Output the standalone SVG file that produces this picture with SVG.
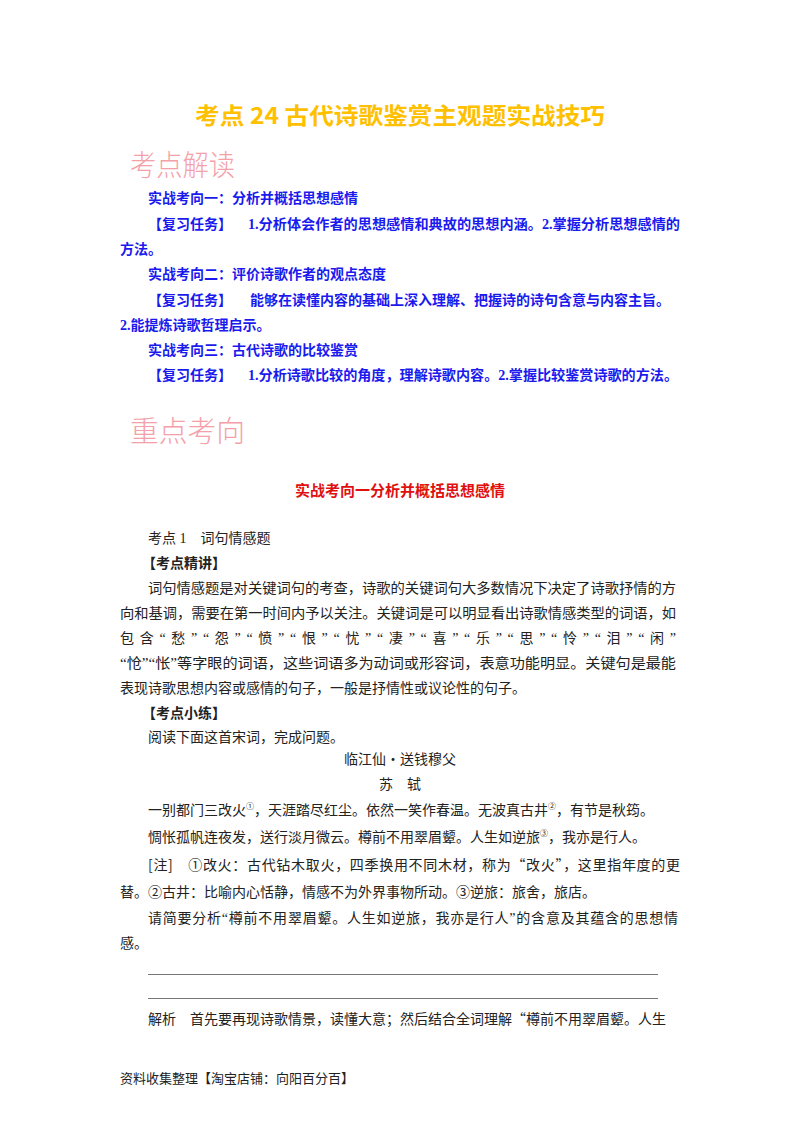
<svg xmlns="http://www.w3.org/2000/svg" width="800" height="1132" viewBox="0 0 800 1132">
<style>
text{font-family:"Liberation Serif","Noto Sans CJK SC",serif;font-size:14px;fill:#222}
.b{fill:#1a1aee;font-weight:bold}
.s{font-family:"Noto Sans CJK SC",sans-serif;font-size:14px}
.h{font-family:"Noto Sans CJK SC",serif;font-size:29px;fill:#f4a0a8;font-weight:300}
</style>
<rect width="800" height="1132" fill="#fff"/>
<text x="400" y="124" text-anchor="middle" textLength="410" lengthAdjust="spacingAndGlyphs" style="font-family:'Noto Sans CJK SC',sans-serif;font-size:23px;font-weight:bold;fill:#FFC000">考点 24  古代诗歌鉴赏主观题实战技巧</text>
<text class="h" x="130" y="176" textLength="105" lengthAdjust="spacingAndGlyphs">考点解读</text>
<text class="b" x="148" y="203">实战考向一：分析并概括思想感情</text>
<text class="b" x="148" y="229">【复习任务】</text>
<text class="b" x="248" y="229" textLength="432" lengthAdjust="spacingAndGlyphs">1.分析体会作者的思想感情和典故的思想内涵。2.掌握分析思想感情的</text>
<text class="b" x="120" y="254">方法。</text>
<text class="b" x="148" y="279">实战考向二：评价诗歌作者的观点态度</text>
<text class="b" x="148" y="305">【复习任务】</text>
<text class="b" x="250" y="305" textLength="420" lengthAdjust="spacingAndGlyphs">能够在读懂内容的基础上深入理解、把握诗的诗句含意与内容主旨。</text>
<text class="b" x="120" y="330">2.能提炼诗歌哲理启示。</text>
<text class="b" x="148" y="355">实战考向三：古代诗歌的比较鉴赏</text>
<text class="b" x="148" y="380">【复习任务】</text>
<text class="b" x="248" y="380" textLength="430" lengthAdjust="spacingAndGlyphs">1.分析诗歌比较的角度，理解诗歌内容。2.掌握比较鉴赏诗歌的方法。</text>
<text class="h" x="130" y="442" textLength="115" lengthAdjust="spacingAndGlyphs">重点考向</text>
<text x="400" y="496" text-anchor="middle" style="font-weight:bold;fill:#e01010;font-size:15px">实战考向一分析并概括思想感情</text>
<text x="148" y="543">考点 1　词句情感题</text>
<text x="142" y="568" font-weight="bold">【考点精讲】</text>
<text x="148" y="593" textLength="528" lengthAdjust="spacingAndGlyphs">词句情感题是对关键词句的考查，诗歌的关键词句大多数情况下决定了诗歌抒情的方</text>
<text x="120" y="618" textLength="556" lengthAdjust="spacingAndGlyphs">向和基调，需要在第一时间内予以关注。关键词是可以明显看出诗歌情感类型的词语，如</text>
<text x="120" y="643" textLength="556" lengthAdjust="spacing">包含“愁”“怨”“愤”“恨”“忧”“凄”“喜”“乐”“思”“怜”“泪”“闲”</text>
<text x="120" y="668" textLength="556" lengthAdjust="spacingAndGlyphs">“怆”“怅”等字眼的词语，这些词语多为动词或形容词，表意功能明显。关键句是最能</text>
<text x="120" y="693">表现诗歌思想内容或感情的句子，一般是抒情性或议论性的句子。</text>
<text x="142" y="718" font-weight="bold">【考点小练】</text>
<text x="148" y="742">阅读下面这首宋词，完成问题。</text>
<text class="s" x="400" y="764" text-anchor="middle">临江仙·送钱穆父</text>
<text x="400" y="789" text-anchor="middle" fill="#444">苏　轼</text>
<text class="s" x="148" y="815">一别都门三改火<tspan font-size="8" dy="-6">①</tspan><tspan dy="6">，天涯踏尽红尘。依然一笑作春温。无波真古井</tspan><tspan font-size="8" dy="-6">②</tspan><tspan dy="6">，有节是秋筠。</tspan></text>
<text class="s" x="148" y="842">惆怅孤帆连夜发，送行淡月微云。樽前不用翠眉颦。人生如逆旅<tspan font-size="8" dy="-6">③</tspan><tspan dy="6">，我亦是行人。</tspan></text>
<text class="s" x="148" y="870" textLength="532" lengthAdjust="spacing">[注]　①改火：古代钻木取火，四季换用不同木材，称为“改火”，这里指年度的更</text>
<text class="s" x="120" y="897">替。②古井：比喻内心恬静，情感不为外界事物所动。③逆旅：旅舍，旅店。</text>
<text x="148" y="923" fill="#555" textLength="530" lengthAdjust="spacing">请简要分析“樽前不用翠眉颦。人生如逆旅，我亦是行人”的含意及其蕴含的思想情</text>
<text x="120" y="948" fill="#555">感。</text>
<line x1="148" y1="974.5" x2="658" y2="974.5" stroke="#777" stroke-width="1"/>
<line x1="148" y1="998.5" x2="658" y2="998.5" stroke="#777" stroke-width="1"/>
<text class="s" x="148" y="1024">解析　首先要再现诗歌情景，读懂大意；然后结合全词理解“樽前不用翠眉颦。人生</text>
<text x="120" y="1083" style="font-size:13px">资料收集整理【淘宝店铺：向阳百分百】</text>
</svg>
